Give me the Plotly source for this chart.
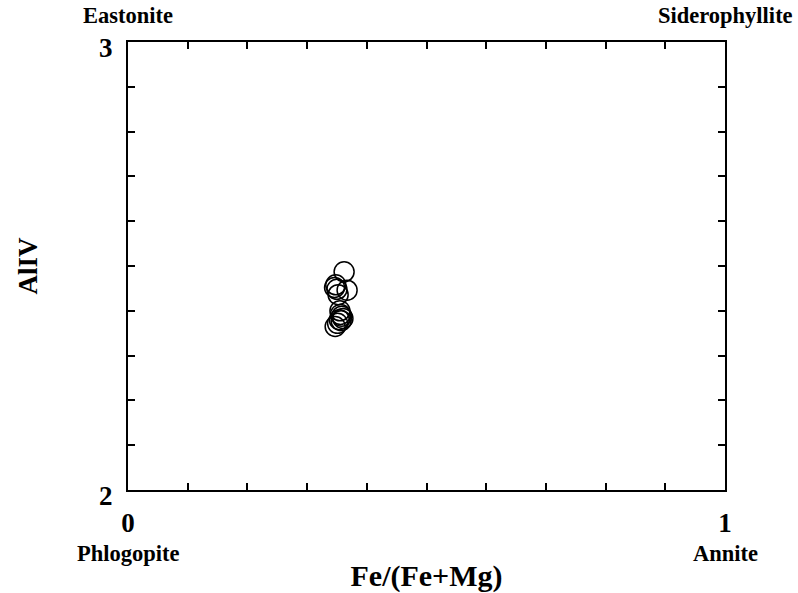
import plotly.graph_objects as go

# Data
fe_ratio = [0.362, 0.367, 0.348, 0.350, 0.352, 0.346, 0.355, 0.358, 0.354, 0.347, 0.360, 0.356, 0.351, 0.357]
al_iv = [2.487, 2.446, 2.458, 2.448, 2.436, 2.452, 2.400, 2.388, 2.380, 2.365, 2.383, 2.392, 2.372, 2.378]

x_tickvals = [round(i * 0.1, 1) for i in range(11)]
x_ticktext = ["<b>0</b>"] + [""] * 9 + ["<b>1</b>"]
y_tickvals = [round(2 + i * 0.1, 1) for i in range(11)]
y_ticktext = ["<b>2</b>"] + [""] * 9 + ["<b>3</b>"]

corner_labels = [
    ("Eastonite", 0, 1, 27),
    ("Siderophyllite", 1, 1, 27),
    ("Phlogopite", 0, 0, -63),
    ("Annite", 1, 0, -63),
]

FONT = "Liberation Serif"

fig = go.Figure()
fig.add_trace(go.Scatter(
    x=fe_ratio, y=al_iv, mode="markers",
    marker=dict(symbol="circle-open", size=20, color="black", line=dict(width=1.5, color="black")),
    showlegend=False,
))

axis_common = dict(
    showline=True, linecolor="black", linewidth=2, mirror="ticks",
    ticks="inside", ticklen=7, tickwidth=1.5, tickcolor="black",
    showgrid=False, zeroline=False,
    tickfont=dict(family=FONT, size=27, color="black"),
)

fig.update_xaxes(range=[0, 1], tickvals=x_tickvals, ticktext=x_ticktext,
                 ticklabelstandoff=8,
                 title=dict(text="<b>Fe/(Fe+Mg)</b>", font=dict(family=FONT, size=30, color="black"), standoff=28),
                 **axis_common)
fig.update_yaxes(range=[2, 3], tickvals=y_tickvals, ticktext=y_ticktext,
                 ticklabelstandoff=8, ticklabelshift=6,
                 title=dict(text="<b>AlIV</b>", font=dict(family=FONT, size=27, color="black"), standoff=54),
                 **axis_common)

for text, xv, yv, ys in corner_labels:
    fig.add_annotation(text="<b>" + text + "</b>", x=xv, xref="x", y=yv, yref="paper",
                       xanchor="center", yanchor="middle", yshift=ys, showarrow=False,
                       font=dict(family=FONT, size=22.5, color="black"))

fig.update_layout(
    width=798, height=593,
    margin=dict(l=128, r=73, t=42, b=103, autoexpand=False),
    paper_bgcolor="white", plot_bgcolor="white",
)

fig.write_html("out.html")
